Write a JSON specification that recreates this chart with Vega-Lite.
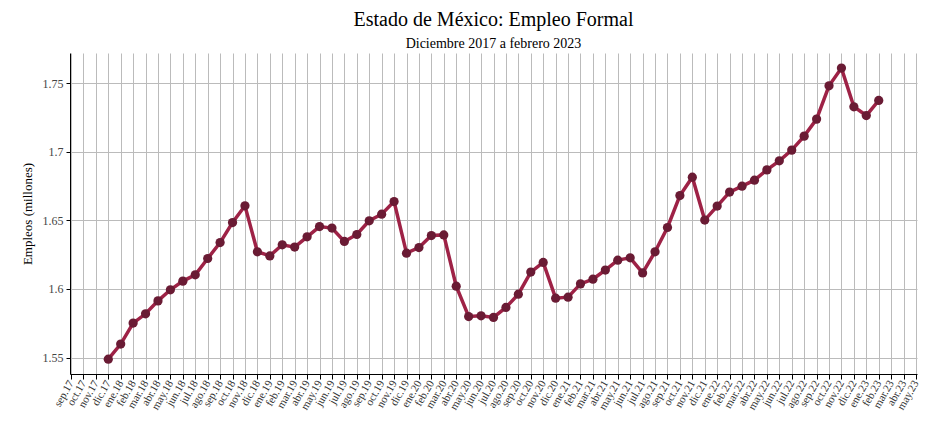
{
  "$schema": "https://vega.github.io/schema/vega-lite/v6.json",
  "width": 847,
  "height": 321,
  "autosize": "none",
  "padding": {"left": 70, "top": 53, "right": 11, "bottom": 59},
  "background": "white",
  "config": {
    "font": "Liberation Serif",
    "view": {"stroke": null},
    "axis": {"labelFont": "Liberation Serif", "titleFont": "Liberation Serif", "gridColor": "#bbbbbb", "gridWidth": 1, "gridOpacity": 1, "domainColor": "#000000", "tickColor": "#000000"}
  },
  "title": {
    "text": "Estado de México: Empleo Formal",
    "subtitle": "Diciembre 2017 a febrero 2023",
    "font": "Liberation Serif",
    "subtitleFont": "Liberation Serif",
    "fontSize": 20,
    "fontWeight": "normal",
    "subtitleFontSize": 14,
    "color": "#000000",
    "subtitleColor": "#000000",
    "anchor": "middle",
    "offset": 2,
    "subtitlePadding": 7
  },
  "data": {
    "values": [
      {"mes": "dic.17", "empleo": 1.5488},
      {"mes": "ene.18", "empleo": 1.5598},
      {"mes": "feb.18", "empleo": 1.5751},
      {"mes": "mar.18", "empleo": 1.5819},
      {"mes": "abr.18", "empleo": 1.5913},
      {"mes": "may.18", "empleo": 1.5994},
      {"mes": "jun.18", "empleo": 1.6057},
      {"mes": "jul.18", "empleo": 1.6103},
      {"mes": "ago.18", "empleo": 1.6222},
      {"mes": "sep.18", "empleo": 1.6338},
      {"mes": "oct.18", "empleo": 1.6484},
      {"mes": "nov.18", "empleo": 1.6606},
      {"mes": "dic.18", "empleo": 1.6271},
      {"mes": "ene.19", "empleo": 1.6241},
      {"mes": "feb.19", "empleo": 1.6322},
      {"mes": "mar.19", "empleo": 1.6305},
      {"mes": "abr.19", "empleo": 1.6380},
      {"mes": "may.19", "empleo": 1.6455},
      {"mes": "jun.19", "empleo": 1.6444},
      {"mes": "jul.19", "empleo": 1.6346},
      {"mes": "ago.19", "empleo": 1.6397},
      {"mes": "sep.19", "empleo": 1.6497},
      {"mes": "oct.19", "empleo": 1.6545},
      {"mes": "nov.19", "empleo": 1.6637},
      {"mes": "dic.19", "empleo": 1.6261},
      {"mes": "ene.20", "empleo": 1.6302},
      {"mes": "feb.20", "empleo": 1.6389},
      {"mes": "mar.20", "empleo": 1.6394},
      {"mes": "abr.20", "empleo": 1.6020},
      {"mes": "may.20", "empleo": 1.5799},
      {"mes": "jun.20", "empleo": 1.5804},
      {"mes": "jul.20", "empleo": 1.5792},
      {"mes": "ago.20", "empleo": 1.5865},
      {"mes": "sep.20", "empleo": 1.5962},
      {"mes": "oct.20", "empleo": 1.6123},
      {"mes": "nov.20", "empleo": 1.6193},
      {"mes": "dic.20", "empleo": 1.5933},
      {"mes": "ene.21", "empleo": 1.5940},
      {"mes": "feb.21", "empleo": 1.6037},
      {"mes": "mar.21", "empleo": 1.6071},
      {"mes": "abr.21", "empleo": 1.6138},
      {"mes": "may.21", "empleo": 1.6210},
      {"mes": "jun.21", "empleo": 1.6227},
      {"mes": "jul.21", "empleo": 1.6117},
      {"mes": "ago.21", "empleo": 1.6271},
      {"mes": "sep.21", "empleo": 1.6448},
      {"mes": "oct.21", "empleo": 1.6681},
      {"mes": "nov.21", "empleo": 1.6815},
      {"mes": "dic.21", "empleo": 1.6502},
      {"mes": "ene.22", "empleo": 1.6604},
      {"mes": "feb.22", "empleo": 1.6706},
      {"mes": "mar.22", "empleo": 1.6749},
      {"mes": "abr.22", "empleo": 1.6793},
      {"mes": "may.22", "empleo": 1.6868},
      {"mes": "jun.22", "empleo": 1.6934},
      {"mes": "jul.22", "empleo": 1.7012},
      {"mes": "ago.22", "empleo": 1.7114},
      {"mes": "sep.22", "empleo": 1.7238},
      {"mes": "oct.22", "empleo": 1.7481},
      {"mes": "nov.22", "empleo": 1.7610},
      {"mes": "dic.22", "empleo": 1.7328},
      {"mes": "ene.23", "empleo": 1.7264},
      {"mes": "feb.23", "empleo": 1.7374}
    ]
  },
  "encoding": {
    "x": {
      "field": "mes",
      "type": "ordinal",
      "scale": {
        "type": "point",
        "padding": 0.08,
        "domain": ["sep.17","oct.17","nov.17","dic.17","ene.18","feb.18","mar.18","abr.18","may.18","jun.18","jul.18","ago.18","sep.18","oct.18","nov.18","dic.18","ene.19","feb.19","mar.19","abr.19","may.19","jun.19","jul.19","ago.19","sep.19","oct.19","nov.19","dic.19","ene.20","feb.20","mar.20","abr.20","may.20","jun.20","jul.20","ago.20","sep.20","oct.20","nov.20","dic.20","ene.21","feb.21","mar.21","abr.21","may.21","jun.21","jul.21","ago.21","sep.21","oct.21","nov.21","dic.21","ene.22","feb.22","mar.22","abr.22","may.22","jun.22","jul.22","ago.22","sep.22","oct.22","nov.22","dic.22","ene.23","feb.23","mar.23","abr.23","may.23"]
      },
      "axis": {
        "title": null,
        "labelAngle": -60,
        "labelFontSize": 11,
        "labelColor": "#333333",
        "tickSize": 5,
        "labelPadding": 2,
        "grid": true
      }
    },
    "y": {
      "field": "empleo",
      "type": "quantitative",
      "scale": {"domain": [1.538, 1.772], "nice": false, "zero": false},
      "axis": {
        "title": "Empleos (millones)",
        "titleFontSize": 13,
        "titleFontWeight": "normal",
        "titleColor": "#000000",
        "titlePadding": 8,
        "values": [1.55, 1.6, 1.65, 1.7, 1.75],
        "format": "~g",
        "labelFontSize": 12,
        "labelColor": "#444444",
        "tickSize": 4,
        "labelPadding": 3,
        "grid": true
      }
    }
  },
  "layer": [
    {"mark": {"type": "line", "color": "#9E2246", "strokeWidth": 3.5}},
    {"mark": {"type": "point", "filled": true, "color": "#6A1B34", "opacity": 1, "size": 85}}
  ]
}
